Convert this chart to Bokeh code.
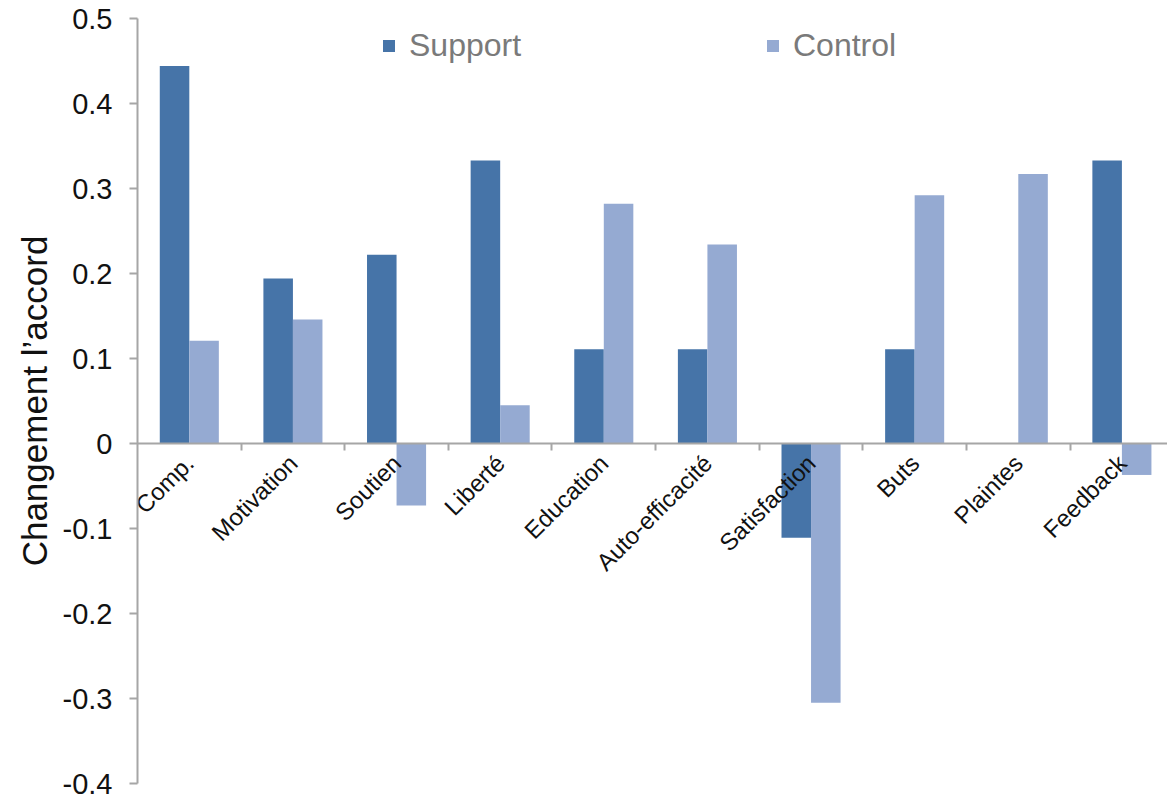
import math

from bokeh.plotting import figure
from bokeh.models import Range1d, FixedTicker, Legend, LegendItem
from bokeh.core.properties import value
from bokeh.embed import file_html
from bokeh.resources import INLINE

# Change in agreement per dimension, for the two groups
categories = ["Comp.", "Motivation", "Soutien", "Liberté", "Education",
              "Auto-efficacité", "Satisfaction", "Buts", "Plaintes", "Feedback"]
support = [0.444, 0.194, 0.222, 0.333, 0.111, 0.111, -0.111, 0.111, 0.0, 0.333]
control = [0.121, 0.146, -0.073, 0.045, 0.282, 0.234, -0.305, 0.292, 0.317, -0.037]

y_ticks = [-0.4, -0.3, -0.2, -0.1, 0.0, 0.1, 0.2, 0.3, 0.4, 0.5]
y_tick_labels = ["-0.4", "-0.3", "-0.2", "-0.1", "0", "0.1", "0.2", "0.3", "0.4", "0.5"]

FONT = "Liberation Sans"
SUPPORT_COLOR = "#4674a8"
CONTROL_COLOR = "#95aad2"
AXIS_COLOR = "#a6a6a6"

BAR_W = 0.285
centers = [i + 0.5 for i in range(len(categories))]
x_support = [c - BAR_W / 2 for c in centers]
x_control = [c + BAR_W / 2 for c in centers]

p = figure(width=1167, height=798, output_backend="svg", toolbar_location=None,
           x_range=Range1d(0, 9.94), y_range=Range1d(-0.4, 0.5),
           min_border_top=18, min_border_bottom=15, min_border_left=137,
           min_border_right=0)
p.outline_line_color = None
p.grid.visible = False
p.background_fill_color = "white"
p.border_fill_color = "white"

r_sup = p.vbar(x=x_support, top=support, bottom=0, width=BAR_W,
               fill_color=SUPPORT_COLOR, line_color=None)
r_ctl = p.vbar(x=x_control, top=control, bottom=0, width=BAR_W,
               fill_color=CONTROL_COLOR, line_color=None)

# y axis
ya = p.yaxis[0]
ya.ticker = FixedTicker(ticks=y_ticks)
ya.major_label_overrides = {t: s for t, s in zip(y_ticks, y_tick_labels)}
ya.major_label_text_font = FONT
ya.major_label_text_font_size = "29px"
ya.major_label_text_color = "#111111"
ya.major_label_standoff = 17
ya.axis_line_color = AXIS_COLOR
ya.axis_line_width = 2
ya.major_tick_line_color = AXIS_COLOR
ya.major_tick_line_width = 2
ya.major_tick_in = 0
ya.major_tick_out = 8
ya.minor_tick_line_color = None
ya.axis_label = "Changement l’accord"
ya.axis_label_text_font = FONT
ya.axis_label_text_font_size = "35px"
ya.axis_label_text_font_style = "normal"
ya.axis_label_text_color = "#111111"
ya.axis_label_standoff = 6

# x axis sitting at zero, ticks between categories
xa = p.xaxis[0]
xa.fixed_location = 0
xa.ticker = FixedTicker(ticks=list(range(1, len(categories) + 1)))
xa.major_label_overrides = {i: "" for i in range(0, len(categories) + 1)}
xa.major_label_text_font_size = "0px"
xa.axis_line_color = AXIS_COLOR
xa.axis_line_width = 2
xa.major_tick_line_color = AXIS_COLOR
xa.major_tick_line_width = 2
xa.major_tick_in = 0
xa.major_tick_out = 7
xa.minor_tick_line_color = None

# slanted category names under the zero line
p.text(x=[c - 0.09 for c in centers], y=[0] * len(categories), text=categories,
       angle=math.pi / 4, text_align="right", text_baseline="top",
       y_offset=6, text_font=value(FONT), text_font_size="24px",
       text_color="#111111")

# legend: two separate entries spread across the top
for label, rend, xloc in (("Support", r_sup, 244), ("Control", r_ctl, 628)):
    lg = Legend(items=[LegendItem(label=label, renderers=[rend])],
                location=(xloc, 719), orientation="horizontal",
                glyph_width=15, glyph_height=15, label_height=34,
                label_standoff=13, padding=0, margin=0, spacing=0,
                border_line_color=None, background_fill_alpha=0,
                label_text_font=FONT, label_text_font_size="32px",
                label_text_color="#7a7a7a")
    p.add_layout(lg, "center")

open("out.html", "w").write(file_html(p, INLINE))
